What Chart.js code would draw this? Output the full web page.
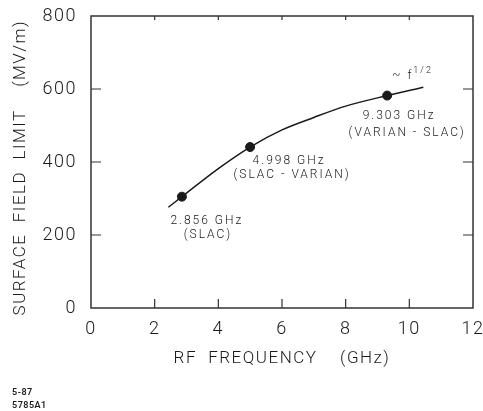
<!DOCTYPE html>
<html>
<head>
<meta charset="utf-8">
<script src="https://cdn.jsdelivr.net/npm/chart.js@4/dist/chart.umd.min.js"></script>
<style>
  html, body { margin: 0; padding: 0; background: #fff; }
  #chart { display: block; }
</style>
</head>
<body>
<canvas id="chart" width="483" height="411"></canvas>
<script>
const ctx = document.getElementById('chart');

// values
const curveFreq = [2.43, 2.856, 4.0, 4.998, 6.0, 7.0, 8.0, 9.303, 10.44];
const curveField = [276, 305, 382, 441, 488, 522, 553, 582, 605];

const pointFreq = [2.856, 4.998, 9.303];
const pointField = [305, 441, 582];
const pointLabels = [
    ['2.856 GHz', '(SLAC)'],
    ['4.998 GHz', '(SLAC - VARIAN)'],
    ['9.303 GHz', '(VARIAN - SLAC)'],
];

const xTicks = [0, 2, 4, 6, 8, 10, 12];
const yTicks = [0, 200, 400, 600, 800];

const ink = '#1a1a1a';
const fontFamily = 'Roboto, "Liberation Sans", sans-serif';

//========================================================================
// extra drawing: frame, inward ticks, annotations, footer
//========================================================================
const paperPlugin = {
    id: 'paper',
    beforeDraw(chart) {
        chart.ctx.letterSpacing = '1.5px';
    },
    afterDraw(chart) {
        const c = chart.ctx;
        const a = chart.chartArea;
        const xs = chart.scales.x;
        const ys = chart.scales.y;
        c.save();
        c.strokeStyle = '#333';
        c.lineWidth = 1.5;
        c.strokeRect(a.left, a.top, a.right - a.left, a.bottom - a.top);

        c.lineWidth = 1.2;
        c.beginPath();
        yTicks.slice(1, -1).forEach((v) => {
            const py = ys.getPixelForValue(v);
            c.moveTo(a.left, py); c.lineTo(a.left + 10, py);
            c.moveTo(a.right, py); c.lineTo(a.right - 10, py);
        });
        xTicks.slice(1, -1).forEach((v) => {
            const px = xs.getPixelForValue(v);
            c.moveTo(px, a.bottom); c.lineTo(px, a.bottom - 9);
            c.moveTo(px, a.top); c.lineTo(px, a.top + 4);
        });
        c.stroke();

        // point annotations
        const offsets = [
            [[25, 24], [26, 38]],
            [[39, 14], [42, 28]],
            [[12, 20], [20, 37]],
        ];
        c.fillStyle = ink;
        c.font = '300 12px ' + fontFamily;
        c.letterSpacing = '2px';
        c.textAlign = 'center';
        c.textBaseline = 'middle';
        pointLabels.forEach((lines, i) => {
            const px = xs.getPixelForValue(pointFreq[i]);
            const py = ys.getPixelForValue(pointField[i]);
            lines.forEach((t, j) => {
                c.fillText(t, px + offsets[i][j][0], py + offsets[i][j][1]);
            });
        });

        // ~ f^1/2 near the curve end
        const ex = xs.getPixelForValue(curveFreq[curveFreq.length - 1]);
        const ey = ys.getPixelForValue(curveField[curveField.length - 1]);
        c.textAlign = 'left';
        c.font = '300 12px ' + fontFamily;
        c.fillText('~ f', ex - 31, ey - 11);
        c.font = '300 9px ' + fontFamily;
        c.fillText('1/2', ex - 10, ey - 16);

        // footer
        c.font = '600 9px ' + fontFamily;
        c.letterSpacing = '0.5px';
        c.fillText('5-87', 12, 393);
        c.fillText('5785A1', 12, 406);
        c.restore();
    },
};

const config = {
    data: {
        datasets: [
            {
                type: 'line',
                data: curveFreq.map((f, i) => ({ x: f, y: curveField[i] })),
                borderColor: ink,
                borderWidth: 1.5,
                pointRadius: 0,
                fill: false,
                cubicInterpolationMode: 'monotone',
            },
            {
                type: 'scatter',
                data: pointFreq.map((f, i) => ({ x: f, y: pointField[i] })),
                backgroundColor: ink,
                borderColor: ink,
                pointRadius: 4.5,
            },
        ],
    },
    options: {
        responsive: false,
        animation: false,
        devicePixelRatio: 1,
        layout: { padding: { left: 0, right: 10, top: 16, bottom: 33 } },
        plugins: { legend: { display: false }, tooltip: { enabled: false } },
        scales: {
            x: {
                type: 'linear',
                min: 0,
                max: 12,
                afterFit: (s) => { s.height = 70; s.paddingLeft = 0; s.paddingRight = 0; },
                afterBuildTicks: (s) => { s.ticks = xTicks.map((v) => ({ value: v })); },
                ticks: { color: ink, font: { family: fontFamily, size: 18, weight: 300 }, padding: 11, maxRotation: 0 },
                grid: { display: false, drawTicks: false },
                border: { display: false },
                title: {
                    display: true,
                    text: 'RF  FREQUENCY    (GHz)',
                    color: ink,
                    font: { family: fontFamily, size: 17, weight: 300 },
                    padding: { top: 0, bottom: 9 },
                },
            },
            y: {
                type: 'linear',
                min: 0,
                max: 800,
                afterFit: (s) => { s.width = 91; s.paddingTop = 0; s.paddingBottom = 0; },
                afterBuildTicks: (s) => { s.ticks = yTicks.map((v) => ({ value: v })); },
                ticks: { color: ink, font: { family: fontFamily, size: 18, weight: 300 }, padding: 14 },
                grid: { display: false, drawTicks: false },
                border: { display: false },
                title: {
                    display: true,
                    text: 'SURFACE  FIELD  LIMIT    (MV/m)  ',
                    color: ink,
                    font: { family: fontFamily, size: 17, weight: 300 },
                    padding: { top: 11, bottom: 0 },
                },
            },
        },
    },
    plugins: [paperPlugin],
};

new Chart(ctx, config);
</script>
</body>
</html>
